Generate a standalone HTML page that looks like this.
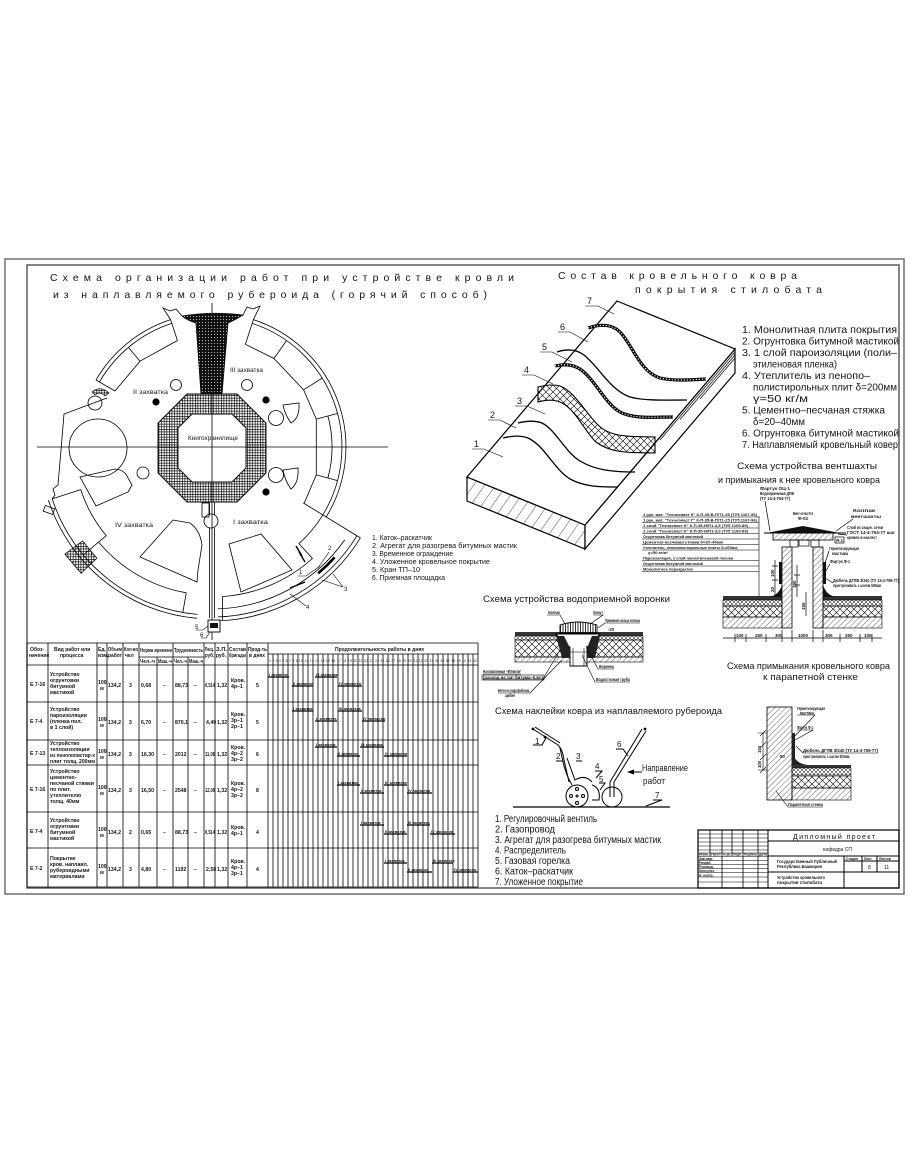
<!DOCTYPE html>
<html><head><meta charset="utf-8">
<style>
html,body{margin:0;padding:0;background:#fff;}
svg{display:block;}
text{font-family:"Liberation Sans","DejaVu Sans",sans-serif;fill:#151515;}
</style></head><body>
<svg width="910" height="1155" viewBox="0 0 910 1155" xmlns="http://www.w3.org/2000/svg">
<defs>
<pattern id="grid" width="2.6" height="2.6" patternUnits="userSpaceOnUse"><path d="M0 0.3H2.6M0.3 0V2.6" stroke="#000" stroke-width="0.7"/></pattern>
<pattern id="xh" width="7" height="7" patternUnits="userSpaceOnUse"><path d="M0 0L7 7M7 0L0 7" stroke="#000" stroke-width="0.6"/></pattern>
<pattern id="xs" width="4" height="4" patternUnits="userSpaceOnUse"><path d="M0 0L4 4M4 0L0 4" stroke="#000" stroke-width="0.5"/></pattern>
<pattern id="dg" width="4" height="4" patternUnits="userSpaceOnUse" patternTransform="rotate(45)"><path d="M0 0V4" stroke="#000" stroke-width="0.6"/></pattern>
<pattern id="dgw" width="9" height="9" patternUnits="userSpaceOnUse" patternTransform="rotate(35)"><path d="M0 0V9" stroke="#000" stroke-width="0.7"/></pattern>
<pattern id="dk" width="3" height="3" patternUnits="userSpaceOnUse"><rect width="3" height="3" fill="#111"/><rect x="1" y="1" width="1" height="1" fill="#bbb"/></pattern>
<pattern id="vs" width="2.5" height="4" patternUnits="userSpaceOnUse"><path d="M0.5 0V4" stroke="#000" stroke-width="0.8"/></pattern>
</defs>
<rect width="910" height="1155" fill="#fff"/>

<!-- frame -->
<rect x="5" y="259" width="899" height="635" fill="none" stroke="#777" stroke-width="1.6"/>
<rect x="27" y="265" width="872" height="623" fill="none" stroke="#444" stroke-width="1.3"/>

<!-- titles -->
<text x="50" y="281" font-size="10.5" textLength="464">Схема организации работ при устройстве кровли</text>
<text x="53" y="298" font-size="10.5" textLength="434">из наплавляемого рубероида (горячий способ)</text>
<text x="558" y="279" font-size="10.5" textLength="239">Состав кровельного ковра</text>
<text x="635" y="293" font-size="10.5" textLength="187">покрытия стилобата</text>

<!-- ================= PLAN ================= -->
<g fill="none" stroke="#000" stroke-width="0.8">
<line x1="37" y1="447" x2="388" y2="447"/>
<line x1="212" y1="303" x2="212" y2="640"/>
<path d="M96 380 A134 134 0 0 1 170.6 319.6 M99.4 382 A130 130 0 0 1 171.8 323.4 M115 391 L140 361.2 L177.4 340.5 M96 380 L115 391 M170.6 319.6 L177.4 340.5 M140 361.2 L128.4 347.4"/>
<path d="M170.6 319.6 L163 308 L170 311 L176 309 L182 316 M253.4 319.6 L260 306 L253 309 L247 307 L243 315"/>
<path d="M253.4 319.6 A134 134 0 0 1 326.2 517 M252.2 323.4 A130 130 0 0 1 322.8 514.9"/>
<path d="M253.4 319.6 L245.4 344.3 L273.9 358.5 L303.6 389.8 L316.3 419.1 L316.3 474.9 L304.1 503.4"/>
<path d="M273.9 358.5 L286.6 340.5 M303.6 389.8 L322.2 378.1 M316.3 419.1 L337.6 413.4 M316.3 474.9 L337.6 480.6 M327.9 415.9 A120 120 0 0 1 327.9 478.1"/>
<path d="M303.2 502.9 L360.4 537.9"/>
<path d="M360.4 537.9 A174 174 0 0 1 218.1 620.9 M356.9 535.8 A170 170 0 0 1 217.9 616.9"/>
<path d="M344.7 539.9 A162 162 0 0 1 217.7 608.9"/>
<path d="M322.8 514.9 A130 130 0 0 1 299 543.6 L312.4 558.5 A150 150 0 0 1 222.5 596.6 L222.5 620"/>
<path d="M197 618.3 A172 172 0 0 1 48.4 500.1 M197.4 614.4 A168 168 0 0 1 52.2 498.9"/>
<path d="M186.3 592.8 A148 148 0 0 1 98.6 542.1 L106.3 535.7 A138 138 0 0 1 80.7 489.6 M186.3 592.8 L182.8 612.4 M98.6 542.1 L83.3 555 M80.7 489.6 L52.2 498.9"/>
<path d="M107 398 L64 414 L61 450 L58 485 L53 489 L55 495 L52.2 498.9"/>
<rect x="44" y="507" width="10" height="6" transform="rotate(20 49 510)"/>
<circle cx="98" cy="448" r="29"/>
<path d="M80 477 L115 469 Q125 470 128 478 L132 485 L128 492 L96 506 Z"/>
<circle cx="143" cy="473" r="6"/>
<path d="M140 557 L173 520 L190 523 Q200 530 202 545 L198 570 L197 582 Z"/>
<path d="M229 544 L261 534 L292 570 L241 592 Z"/>
<circle cx="176" cy="385" r="5.5"/>
<circle cx="247" cy="385" r="5.5"/>
<circle cx="276" cy="418" r="7.5"/>
<path d="M283 405 L299 403 Q300 418 291 423 Q285 415 283 405Z"/>
<circle cx="276" cy="475" r="7.5"/>
<path d="M283 470 L298 468 Q299 483 291 489 Q285 481 283 470Z"/>
<circle cx="95" cy="403" r="7"/>
<path d="M209.5 502 V515 M214.5 502 V515 M209.5 528 V618 M214.5 528 V618"/>
<circle cx="211" cy="521" r="7"/>
<rect x="202" y="503" width="7" height="14"/>
</g>
<circle cx="156" cy="402" r="3.6" fill="#000"/>
<circle cx="266" cy="400" r="3.6" fill="#000"/>
<circle cx="266" cy="492" r="3.6" fill="#000"/>
<path d="M92 392 Q100 385 109 393 L105 396 Q100 391 95 395 Z" fill="url(#grid)" stroke="#000" stroke-width="0.6"/>
<polygon points="96.9,558.2 81.1,573.4 64.8,554 82.6,541" fill="url(#grid)" stroke="#000" stroke-width="0.7"/>
<path d="M187 394 L237 394 L266 423 L266 473 L237 502 L187 502 L158 473 L158 423 Z M192 414 L178 428 L178 468 L192 482 L232 482 L246 468 L246 428 L232 414 Z" fill="url(#grid)" fill-rule="evenodd" stroke="#000" stroke-width="0.9"/>
<path d="M182 316 Q212 311 243 315 Q233 321 228 323 L222 394 L201 394 L196 323 Q188 321 182 316Z" fill="url(#dk)" stroke="#000" stroke-width="0.8"/>
<path d="M334.6 557.4 A165 165 0 0 1 318.1 573.4" fill="none" stroke="#000" stroke-width="2.6"/>
<path d="M290 588 L305 582 M296 546 L302 556 M299 552 L305 562" stroke="#000" stroke-width="1.4"/>
<rect x="208" y="620" width="12" height="12" fill="#fff" stroke="#000" stroke-width="0.9"/>
<rect x="210" y="623" width="8" height="5" fill="#111"/>
<g font-size="6">
<text x="230" y="372" textLength="33" lengthAdjust="spacingAndGlyphs">III захватка</text>
<text x="133" y="394" textLength="35" lengthAdjust="spacingAndGlyphs">II захватка</text>
<text x="188" y="440" textLength="50" lengthAdjust="spacingAndGlyphs">Книгохранилище</text>
<text x="115" y="527" textLength="38" lengthAdjust="spacingAndGlyphs">IV захватка</text>
<text x="233" y="524" textLength="35" lengthAdjust="spacingAndGlyphs">I захватка</text>
<text x="299" y="574">1</text>
<text x="328" y="550">2</text>
<text x="344" y="591">3</text>
<text x="306" y="609">4</text>
<text x="195" y="629">5</text>
<text x="200" y="637">6</text>
</g>
<g stroke="#000" stroke-width="0.6" fill="none">
<path d="M298 576 H306 L320 566 M329 552 L318 568 M343 587 L322 580 M343 587 L333 574 M306 606 L290 594 M196 630 H203 L208 626 M201 638 H206 L210 632"/>
</g>
<g font-size="7">
<text x="372" y="540" textLength="60" lengthAdjust="spacingAndGlyphs">1. Каток–раскатчик</text>
<text x="372" y="548" textLength="145" lengthAdjust="spacingAndGlyphs">2. Агрегат для разогрева битумных мастик</text>
<text x="372" y="556" textLength="81" lengthAdjust="spacingAndGlyphs">3. Временное ограждение</text>
<text x="372" y="564" textLength="118" lengthAdjust="spacingAndGlyphs">4. Уложенное кровельное покрытие</text>
<text x="372" y="572" textLength="48" lengthAdjust="spacingAndGlyphs">5. Кран ТП–10</text>
<text x="372" y="580" textLength="73" lengthAdjust="spacingAndGlyphs">6. Приемная площадка</text>
</g>

<!-- ================= TABLE ================= -->
<g stroke="#000" stroke-width="0.8" fill="none">
<path d="M27 643 H478 M27 665 H478 M27 702 H478 M27 740 H478 M27 765 H478 M27 812 H478 M27 848 H478 M27 887 H478 M268 654 H478 M139 657 H204"/>
<path d="M27 643 V887 M48 643 V887 M97 643 V887 M107 643 V887 M123 643 V887 M139 643 V887 M157 657 V887 M173 643 V887 M188 657 V887 M204 643 V887 M215 643 V887 M228 643 V887 M247 643 V887 M268 643 V887 M478 643 V887"/>
<path d="M273 654V887M278 654V887M283 654V887M288 654V887M293 654V887M298 654V887M303 654V887M308 654V887M313 654V887M318 654V887M323 654V887M328 654V887M333 654V887M338 654V887M343 654V887M348 654V887M353 654V887M358 654V887M363 654V887M368 654V887M373 654V887M378 654V887M383 654V887M388 654V887M393 654V887M398 654V887M403 654V887M408 654V887M413 654V887M418 654V887M423 654V887M428 654V887M433 654V887M438 654V887M443 654V887M448 654V887M453 654V887M458 654V887M463 654V887M468 654V887M473 654V887"/>
</g>
<g stroke="#000" stroke-width="1.3">
<path d="M268 677H289M292 686H313M315 677H337M338 686H362"/>
<path d="M292 711H313M315 721H337M338 711H362M362 721H385"/>
<path d="M315 747H337M337 756H360M360 747H384M384 756H407"/>
<path d="M337 785H360M360 793H384M384 785H407M407 793H432"/>
<path d="M360 825H384M384 834H407M407 825H430M430 834H455"/>
<path d="M384 863H407M407 872H432M432 863H453M453 872H478"/>
</g>
<g font-size="4" font-weight="bold">
<text x="269" y="676">I захватка</text><text x="293" y="685">II захватка</text><text x="316" y="676">III захватка</text><text x="339" y="685">IV захватка</text>
<text x="293" y="710">I захватка</text><text x="316" y="720">II захватка</text><text x="339" y="710">III захватка</text><text x="363" y="720">IV захватка</text>
<text x="316" y="746">I захватка</text><text x="338" y="755">II захватка</text><text x="361" y="746">III захватка</text><text x="385" y="755">IV захватка</text>
<text x="338" y="784">I захватка</text><text x="361" y="792">II захватка</text><text x="385" y="784">III захватка</text><text x="408" y="792">IV захватка</text>
<text x="361" y="824">I захватка</text><text x="385" y="833">II захватка</text><text x="408" y="824">III захватка</text><text x="431" y="833">IV захватка</text>
<text x="385" y="862">I захватка</text><text x="408" y="871">II захватка</text><text x="433" y="862">III захватка</text><text x="454" y="871">IV захватка</text>
</g>
<g font-size="5" font-weight="bold">
<text x="30" y="651">Обоз-</text><text x="29" y="657">начение</text>
<text x="54" y="651">Вид работ или</text><text x="60" y="657">процесса</text>
<text x="98" y="651">Ед.</text><text x="98" y="657">изм.</text>
<text x="108" y="651" textLength="14" lengthAdjust="spacingAndGlyphs">Объем</text><text x="108" y="657" textLength="14" lengthAdjust="spacingAndGlyphs">работ</text>
<text x="124" y="651" textLength="14" lengthAdjust="spacingAndGlyphs">Кол-во</text><text x="125" y="657">чел</text>
<text x="140" y="652" textLength="32" lengthAdjust="spacingAndGlyphs">Норма времени</text><text x="174" y="652" textLength="29" lengthAdjust="spacingAndGlyphs">Трудоемкость</text>
<text x="140" y="663" textLength="15" lengthAdjust="spacingAndGlyphs">Чел.-ч</text><text x="158" y="663" textLength="14" lengthAdjust="spacingAndGlyphs">Маш.-ч</text><text x="174" y="663" textLength="13" lengthAdjust="spacingAndGlyphs">Чел.-ч</text><text x="189" y="663" textLength="14" lengthAdjust="spacingAndGlyphs">Маш.-ч</text>
<text x="205" y="651" textLength="9" lengthAdjust="spacingAndGlyphs">Расц.</text><text x="205" y="657" textLength="9" lengthAdjust="spacingAndGlyphs">руб.</text>
<text x="216" y="651" textLength="11" lengthAdjust="spacingAndGlyphs">З.П.</text><text x="216" y="657" textLength="10" lengthAdjust="spacingAndGlyphs">руб.</text>
<text x="229" y="651" textLength="17" lengthAdjust="spacingAndGlyphs">Состав</text><text x="229" y="657" textLength="17" lengthAdjust="spacingAndGlyphs">бригады</text>
<text x="248" y="651" textLength="19" lengthAdjust="spacingAndGlyphs">Прод-ть</text><text x="249" y="657" textLength="16" lengthAdjust="spacingAndGlyphs">в днях</text>
<text x="335" y="651">Продолжительность работы в днях</text>
</g>
<text x="269" y="662" font-size="3.3" textLength="208">1 2 3 4 5 6 7 8 9 10 11 12 13 14 15 16 17 18 19 20 21 22 23 24 25 26 27 28 29 30 31 32 33 34 35 36 37 38 39 40 41 42</text>
<g font-size="5.2" font-weight="bold">
<text x="30" y="686">Е 7-16</text>
<text x="50" y="676">Устройство</text><text x="50" y="682">огрунтовки</text><text x="50" y="688">битумной</text><text x="50" y="694">мастикой</text>
<text x="98" y="684">100</text><text x="100" y="690">м</text><text x="108" y="687">134,2</text><text x="129" y="687">3</text><text x="141" y="687">0,68</text><text x="163" y="687">–</text><text x="175" y="687">88,73</text><text x="194" y="687">–</text><text x="205" y="687" textLength="10" lengthAdjust="spacingAndGlyphs">0,514</text><text x="217" y="687">1,32</text><text x="231" y="682">Кров.</text><text x="231" y="688">4р–1</text><text x="256" y="687">5</text>
<text x="30" y="723">Е 7-4</text>
<text x="50" y="711">Устройство</text><text x="50" y="717">пароизоляции</text><text x="50" y="723">(пленка пол.</text><text x="50" y="729">в 1 слой)</text>
<text x="98" y="721">100</text><text x="100" y="727">м</text><text x="108" y="724">134,2</text><text x="129" y="724">3</text><text x="141" y="724">6,70</text><text x="163" y="724">–</text><text x="175" y="724">870,1</text><text x="194" y="724">–</text><text x="206" y="724">4,49</text><text x="217" y="724">1,32</text><text x="231" y="716">Кров.</text><text x="231" y="722">3р–1</text><text x="231" y="728">2р–1</text><text x="256" y="724">5</text>
<text x="30" y="755">Е 7-13</text>
<text x="50" y="745">Устройство</text><text x="50" y="751">теплоизоляции</text><text x="50" y="757" textLength="45" lengthAdjust="spacingAndGlyphs">из пенополистир-х</text><text x="50" y="763" textLength="45" lengthAdjust="spacingAndGlyphs">плит толщ. 200мм</text>
<text x="98" y="753">100</text><text x="100" y="759">м</text><text x="108" y="756">134,2</text><text x="129" y="756">3</text><text x="141" y="756">16,30</text><text x="163" y="756">–</text><text x="175" y="756">2012</text><text x="194" y="756">–</text><text x="205" y="756" textLength="10" lengthAdjust="spacingAndGlyphs">11,06</text><text x="217" y="756">1,32</text><text x="231" y="749">Кров.</text><text x="231" y="755">4р–2</text><text x="231" y="761">3р–2</text><text x="256" y="756">6</text>
<text x="30" y="791">Е 7-16</text>
<text x="50" y="773">Устройство</text><text x="50" y="779">цементно-</text><text x="50" y="785" textLength="44" lengthAdjust="spacingAndGlyphs">песчаной стяжки</text><text x="50" y="791">по плит.</text><text x="50" y="797">утеплителю</text><text x="50" y="803">толщ. 40мм</text>
<text x="98" y="789">100</text><text x="100" y="795">м</text><text x="108" y="792">134,2</text><text x="129" y="792">3</text><text x="141" y="792">16,50</text><text x="163" y="792">–</text><text x="175" y="792">2548</text><text x="194" y="792">–</text><text x="205" y="792" textLength="10" lengthAdjust="spacingAndGlyphs">12,06</text><text x="217" y="792">1,32</text><text x="231" y="785">Кров.</text><text x="231" y="791">4р–2</text><text x="231" y="797">3р–2</text><text x="256" y="792">8</text>
<text x="30" y="833">Е 7-4</text>
<text x="50" y="822">Устройство</text><text x="50" y="828">огрунтовки</text><text x="50" y="834">битумной</text><text x="50" y="840">мастикой</text>
<text x="98" y="831">100</text><text x="100" y="837">м</text><text x="108" y="834">134,2</text><text x="129" y="834">2</text><text x="141" y="834">0,65</text><text x="163" y="834">–</text><text x="175" y="834">88,73</text><text x="194" y="834">–</text><text x="205" y="834" textLength="10" lengthAdjust="spacingAndGlyphs">0,514</text><text x="217" y="834">1,32</text><text x="231" y="829">Кров.</text><text x="231" y="835">4р–1</text><text x="256" y="834">4</text>
<text x="30" y="870">Е 7-2</text>
<text x="50" y="860">Покрытие</text><text x="50" y="866">кров. наплавл.</text><text x="50" y="872">рубероидными</text><text x="50" y="878">материалами</text>
<text x="98" y="868">100</text><text x="100" y="874">м</text><text x="108" y="871">134,2</text><text x="129" y="871">3</text><text x="141" y="871">4,80</text><text x="163" y="871">–</text><text x="175" y="871">1192</text><text x="194" y="871">–</text><text x="206" y="871">2,58</text><text x="217" y="871">1,32</text><text x="231" y="863">Кров.</text><text x="231" y="869">4р–1</text><text x="231" y="875">3р–1</text><text x="256" y="871">4</text>
</g>

<!-- ================= ISOMETRIC BLOCK ================= -->
<polygon points="467,477 585,525 585,549 467,501" fill="url(#dgw)" stroke="#000" stroke-width="1.2"/>
<polygon points="585,525 735,349 735,373 585,549" fill="#fff" stroke="#000" stroke-width="1.2"/>
<polygon points="617,301 735,349 585,525 467,477" fill="#fff" stroke="#000" stroke-width="1.2"/>
<g fill="none" stroke="#000" stroke-width="0.7">
<path d="M735 352 L660 440 M735 355 L680 419.5 M735 358 L700 399"/>
</g>
<g fill="none" stroke="#000" stroke-width="1.3">
<path d="M557 352 C566 349 576 349 584 355 C600 368 610 390 630 397 C645 401 665 400 687 400"/>
<path d="M518 423 C526 421 534 420 542 423 C556 430 565 452 580 461 C595 470 612 472 635 472"/>
<path d="M503 438 C512 436 520 435 528 438 C545 446 553 468 570 479 C585 487 600 487 618 487"/>
</g>
<g fill="none">
<path d="M588 328 C600 324 612 324 620 332 C632 344 640 372 660 378 C672 381 690 380 706 379" stroke="#000" stroke-width="3.2"/>
<path d="M588 328 C600 324 612 324 620 332 C632 344 640 372 660 378 C672 381 690 380 706 379" stroke="#fff" stroke-width="1.2" stroke-dasharray="1.2 1.8"/>
<path d="M555 366 C563 364 572 364 580 369 C596 380 605 405 622 413 C636 419 655 417 673 417" stroke="#000" stroke-width="3.2"/>
<path d="M555 366 C563 364 572 364 580 369 C596 380 605 405 622 413 C636 419 655 417 673 417" stroke="#fff" stroke-width="1.2" stroke-dasharray="1.2 1.8"/>
</g>
<path d="M538 387 C546 385 553 384 560 386 C574 391 585 412 598 425 C608 435 620 437 655 437 L655 453 C620 453 608 451 596 442 C585 432 576 410 562 403 C554 399 545 400 538 402 Z" fill="url(#xh)" stroke="#000" stroke-width="1.1"/>
<g font-size="9">
<text x="587" y="304">7</text><text x="560" y="330">6</text><text x="542" y="350">5</text><text x="524" y="373">4</text><text x="517" y="404">3</text><text x="490" y="418">2</text><text x="474" y="447">1</text>
</g>
<g stroke="#000" stroke-width="0.6" fill="none">
<path d="M585 306 H598 L614 314 M558 332 H570 L588 342 M540 352 H552 L572 362 M522 375 H534 L553 384 M515 406 H527 L545 414 M488 420 H500 L516 428 M472 449 H484 L503 457"/>
</g>
<g font-size="10">
<text x="742" y="333" textLength="155" lengthAdjust="spacingAndGlyphs">1. Монолитная плита покрытия</text>
<text x="742" y="344.5" textLength="157" lengthAdjust="spacingAndGlyphs">2. Огрунтовка битумной мастикой</text>
<text x="742" y="356" textLength="155" lengthAdjust="spacingAndGlyphs">3. 1 слой пароизоляции (поли–</text>
<text x="753" y="367.5" textLength="84" lengthAdjust="spacingAndGlyphs">этиленовая пленка)</text>
<text x="742" y="379" textLength="128" lengthAdjust="spacingAndGlyphs">4. Утеплитель из пенопо–</text>
<text x="753" y="390.5" textLength="144" lengthAdjust="spacingAndGlyphs">полистирольных плит δ=200мм</text>
<text x="753" y="402" textLength="55" lengthAdjust="spacingAndGlyphs">γ=50 кг/м</text>
<text x="742" y="413.5" textLength="143" lengthAdjust="spacingAndGlyphs">5. Цементно–песчаная стяжка</text>
<text x="753" y="425" textLength="52" lengthAdjust="spacingAndGlyphs">δ=20–40мм</text>
<text x="742" y="436.5" textLength="157" lengthAdjust="spacingAndGlyphs">6. Огрунтовка битумной мастикой</text>
<text x="742" y="448" textLength="156" lengthAdjust="spacingAndGlyphs">7. Наплавляемый кровельный ковер</text>
</g>
<text x="737" y="469" font-size="9.5" textLength="140" lengthAdjust="spacingAndGlyphs">Схема устройства вентшахты</text>
<text x="718" y="483" font-size="9.5" textLength="162" lengthAdjust="spacingAndGlyphs">и примыкания к нее кровельного ковра</text>

<!-- ================= VENT SHAFT ================= -->
<g font-size="4" font-weight="bold">
<text x="643" y="516" textLength="114" lengthAdjust="spacingAndGlyphs">1 рук. мат. "Техноэласт К" К-П-35-В-П/Т1-25 (ТУ5 1167-96)</text>
<text x="643" y="521.5" textLength="114" lengthAdjust="spacingAndGlyphs">1 рук. мат. "Техноэласт Г" К-П-35-В-П/Т1-25 (ТУ5 1167-96)</text>
<text x="643" y="527" textLength="105" lengthAdjust="spacingAndGlyphs">1 слой "Техноэласт К" К-П-35-Н/П1-3,5 (ТУ5 1100-89)</text>
<text x="643" y="532.5" textLength="105" lengthAdjust="spacingAndGlyphs">1 слой "Техноэласт К" К-П-35-Н/П1-3,0 (ТУ5 1100-89)</text>
<text x="643" y="538" textLength="60" lengthAdjust="spacingAndGlyphs">Огрунтовка битумной мастикой</text>
<text x="643" y="543.5" textLength="80" lengthAdjust="spacingAndGlyphs">Цементно-песчаная стяжка δ=20–40мм</text>
<text x="643" y="549" textLength="95" lengthAdjust="spacingAndGlyphs">Утеплитель, пенополистирольные плиты δ=200мм,</text>
<text x="648" y="554" textLength="20" lengthAdjust="spacingAndGlyphs">γ=50 кг/м³</text>
<text x="643" y="559.5" textLength="90" lengthAdjust="spacingAndGlyphs">Пароизоляция, 1 слой полиэтиленовой пленки</text>
<text x="643" y="565" textLength="60" lengthAdjust="spacingAndGlyphs">Огрунтовка битумной мастикой</text>
<text x="643" y="570.5" textLength="50" lengthAdjust="spacingAndGlyphs">Монолитное перекрытие</text>
</g>
<g stroke="#000" stroke-width="0.6" fill="none">
<path d="M642 517 H759 M642 522.5 H759 M642 528 H759 M642 533.5 H759 M642 539 H759 M642 544.5 H759 M642 550 H759 M642 560.5 H759 M642 566 H759 M642 571.5 H759 M759 516 V597"/>
</g>
<rect x="723" y="596" width="59" height="4" fill="#333"/>
<rect x="823" y="596" width="59" height="4" fill="#333"/>
<rect x="723" y="600" width="59" height="6" fill="url(#xs)" stroke="#000" stroke-width="0.6"/>
<rect x="823" y="600" width="59" height="6" fill="url(#xs)" stroke="#000" stroke-width="0.6"/>
<rect x="723" y="606" width="59" height="11" fill="url(#xh)" stroke="#000" stroke-width="0.6"/>
<rect x="823" y="606" width="59" height="11" fill="url(#xh)" stroke="#000" stroke-width="0.6"/>
<rect x="723" y="617" width="59" height="11" fill="url(#dg)" stroke="#000" stroke-width="0.6"/>
<rect x="823" y="617" width="59" height="11" fill="url(#dg)" stroke="#000" stroke-width="0.6"/>
<rect x="782" y="547" width="10" height="81" fill="url(#dg)" stroke="#000" stroke-width="0.8"/>
<rect x="813" y="547" width="10" height="81" fill="url(#dg)" stroke="#000" stroke-width="0.8"/>
<rect x="773" y="533" width="60" height="7" fill="url(#dg)" stroke="#000" stroke-width="0.8"/>
<polygon points="766,533 803,526 840,533" fill="#111"/>
<line x1="764" y1="533" x2="846" y2="533" stroke="#000" stroke-width="1"/>
<g fill="none" stroke="#000" stroke-width="0.7">
<rect x="790" y="540" width="8" height="7"/><rect x="811" y="540" width="8" height="7"/><rect x="799" y="540" width="10" height="6"/>
<path d="M723 638 H882 M735 634 V642 M746 634 V642 M766 634 V642 M782 630 V642 M792 630 V642 M813 630 V642 M823 630 V642 M840 634 V642 M860 634 V642 M872 634 V642"/>
<path d="M775 560 V597 M772 566 H778 M772 580 H778 M797 565 V597 M794 575 H800 M794 585 H800 M806 592 V616"/>
<path d="M765 501 L770 531 M853 519 L836 531 M847 535 L838 534 M829 551 L824 566 M830 564 L824 574 M833 583 L825 578"/>
<rect x="835" y="537" width="9" height="6"/>
</g>
<path d="M770 597 Q780 594 782 584 L782 597 Z" fill="#111"/>
<path d="M835 597 Q825 594 823 584 L823 597 Z" fill="#111"/>
<rect x="779" y="562" width="3" height="22" fill="#111"/>
<rect x="823" y="562" width="3" height="22" fill="#111"/>
<g font-size="4.5" font-weight="bold">
<text x="736" y="637">100</text><text x="755" y="637">250</text><text x="775" y="637">300</text><text x="798" y="637">1000</text><text x="825" y="637">300</text><text x="845" y="637">250</text><text x="864" y="637">100</text>
<text x="760" y="490" textLength="30" lengthAdjust="spacingAndGlyphs">Фартук ОЦ-1</text>
<text x="760" y="495" textLength="34" lengthAdjust="spacingAndGlyphs">Водоприемная ДПВ</text>
<text x="760" y="500" textLength="30" lengthAdjust="spacingAndGlyphs">(ТУ 14-4-754-77)</text>
<text x="793" y="515" textLength="20" lengthAdjust="spacingAndGlyphs">Вент-сетка Я-2</text>
<text x="798" y="520" textLength="10" lengthAdjust="spacingAndGlyphs">Ф-02</text>
<text x="853" y="512" textLength="22" lengthAdjust="spacingAndGlyphs">Колпак</text>
<text x="851" y="518" textLength="30" lengthAdjust="spacingAndGlyphs">вентшахты</text>
<text x="847" y="529" textLength="36" lengthAdjust="spacingAndGlyphs">Слой из сварн. сетки</text>
<text x="847" y="534" textLength="48" lengthAdjust="spacingAndGlyphs">ГОСТ 14-4-754-77 шаг</text>
<text x="847" y="539" textLength="30" lengthAdjust="spacingAndGlyphs">кровли в нахлест</text>
<text x="836" y="542" textLength="7" lengthAdjust="spacingAndGlyphs">Я-1</text>
<text x="829" y="550" textLength="30" lengthAdjust="spacingAndGlyphs">Герметизирующая</text>
<text x="832" y="555" textLength="16" lengthAdjust="spacingAndGlyphs">мастика</text>
<text x="830" y="563" textLength="20" lengthAdjust="spacingAndGlyphs">Фартук Ф-1</text>
<text x="833" y="582" textLength="66" lengthAdjust="spacingAndGlyphs">Дюбель ДГПВ 3/240 (ТУ 14-4-759-77)</text>
<text x="833" y="587" textLength="48" lengthAdjust="spacingAndGlyphs">пристреливать с шагом 500мм</text>
</g>
<g font-size="4.5" font-weight="bold">
<text transform="translate(774 592) rotate(-90)">20</text>
<text transform="translate(774 577) rotate(-90)">100</text>
<text transform="translate(796 588) rotate(-90)">100</text>
<text transform="translate(805 610) rotate(-90)">150</text>
</g>

<!-- ================= FUNNEL ================= -->
<text x="483" y="602" font-size="9.5" textLength="187" lengthAdjust="spacingAndGlyphs">Схема устройства водоприемной воронки</text>
<rect x="515" y="632" width="128" height="4" fill="#333"/>
<rect x="515" y="636" width="128" height="4" fill="url(#xs)" stroke="#000" stroke-width="0.5"/>
<rect x="515" y="640" width="128" height="17" fill="url(#xh)" stroke="#000" stroke-width="0.6"/>
<rect x="515" y="657" width="128" height="5" fill="url(#dg)" stroke="#000" stroke-width="0.6"/>
<polygon points="556,634 600,634 590,645 587,647 587,666 570,666 570,647 566,645" fill="#fff" stroke="#000" stroke-width="0.9"/>
<polygon points="556,636 564,636 570,648 570,658 562,658" fill="#222"/>
<polygon points="600,636 592,636 587,648 587,658 595,658" fill="#222"/>
<path d="M573 648 V666 M584 648 V666 M570 652 H587" stroke="#000" stroke-width="0.6" fill="none"/>
<path d="M560 633 L560 625 Q578 619 597 625 L597 633 Z" fill="url(#vs)" stroke="#000" stroke-width="0.9"/>
<g stroke="#000" stroke-width="0.6" fill="none">
<path d="M547 615 H560 L565 624 M593 615 H603 L590 624 M605 623 H640 M605 623 L598 628 M598 669 H614 M598 669 L586 646 M595 682 H630 M595 682 L582 655 M483 674 H521 M483 679 H543 M543 679 L560 650 M498 693 H530 M530 693 L562 660"/>
<rect x="482" y="675" width="62" height="5"/>
</g>
<g font-size="4.3" font-weight="bold">
<text x="548" y="614" textLength="12" lengthAdjust="spacingAndGlyphs">Колпак</text>
<text x="593" y="614" textLength="10" lengthAdjust="spacingAndGlyphs">Хомут</text>
<text x="605" y="622" textLength="35" lengthAdjust="spacingAndGlyphs">Прижимное кольцо колпака</text>
<text x="608" y="631">-20</text>
<text x="599" y="668" textLength="15" lengthAdjust="spacingAndGlyphs">Воронка</text>
<text x="596" y="681" textLength="34" lengthAdjust="spacingAndGlyphs">Водосточная труба</text>
<text x="483" y="673" textLength="38" lengthAdjust="spacingAndGlyphs">Наплавляемая –800мл/м²</text>
<text x="483" y="679" textLength="60" lengthAdjust="spacingAndGlyphs">(расход на 1м² битума–0,6л)</text>
<text x="498" y="692" textLength="32" lengthAdjust="spacingAndGlyphs">Бетон на гидрофобизир.</text>
<text x="505" y="697" textLength="10" lengthAdjust="spacingAndGlyphs">щебне</text>
</g>

<!-- ================= ROLLING TOOL ================= -->
<text x="495" y="714" font-size="9.5" textLength="227" lengthAdjust="spacingAndGlyphs">Схема наклейки ковра из наплавляемого рубероида</text>
<line x1="513" y1="807" x2="670" y2="807" stroke="#000" stroke-width="1.3"/>
<g fill="none" stroke="#000" stroke-width="1">
<circle cx="577" cy="796" r="11"/>
<circle cx="577" cy="789" r="1.5"/><circle cx="571" cy="796" r="1.5"/><circle cx="583" cy="796" r="1.5"/><circle cx="577" cy="803" r="1.5"/><circle cx="577" cy="796" r="1"/>
<path d="M533 729 L558 745 Q563 750 564 760 L569 782 M535 727 L560 743"/>
<path d="M560 748 L563 762 Q566 775 572 785"/>
<path d="M567 758 L575 780 Q585 774 592 782"/>
<path d="M592 785 Q601 788 599 800 L592 800"/>
<circle cx="612" cy="797" r="10"/>
<path d="M610 797 V782 L642 729 M614 797 V782 L646 731"/>
<path d="M628 772 H642"/>
<path d="M533 745 H542 L546 738 M556 761 H563 M576 761 H582 M595 771 H602 L596 778 M599 783 H605 L600 790 M616 749 H623 L628 756 M653 800 H662 L646 806"/>
</g>
<circle cx="533" cy="729" r="1.4" fill="#000"/>
<circle cx="545" cy="737" r="1.4" fill="#000"/>
<circle cx="645" cy="729" r="1.4" fill="#000"/>
<polygon points="627,772 634,769.5 634,774.5" fill="#000"/>
<g font-size="8">
<text x="535" y="744">1</text><text x="556" y="759">2</text><text x="576" y="759">3</text><text x="595" y="769">4</text><text x="599" y="782">5</text><text x="617" y="747">6</text><text x="655" y="798">7</text>
</g>
<text x="642" y="771" font-size="9" textLength="46" lengthAdjust="spacingAndGlyphs">Направление</text>
<text x="643" y="784" font-size="9" textLength="22" lengthAdjust="spacingAndGlyphs">работ</text>
<g font-size="10">
<text x="495" y="822" textLength="102" lengthAdjust="spacingAndGlyphs">1. Регулировочный вентиль</text>
<text x="495" y="832.5" textLength="60" lengthAdjust="spacingAndGlyphs">2. Газопровод</text>
<text x="495" y="843" textLength="166" lengthAdjust="spacingAndGlyphs">3. Агрегат для разогрева битумных мастик</text>
<text x="495" y="853.5" textLength="71" lengthAdjust="spacingAndGlyphs">4. Распределитель</text>
<text x="495" y="864" textLength="75" lengthAdjust="spacingAndGlyphs">5. Газовая горелка</text>
<text x="495" y="874.5" textLength="78" lengthAdjust="spacingAndGlyphs">6. Каток–раскатчик</text>
<text x="495" y="885" textLength="88" lengthAdjust="spacingAndGlyphs">7. Уложенное покрытие</text>
</g>

<!-- ================= PARAPET ================= -->
<text x="727" y="669" font-size="9.5" textLength="163" lengthAdjust="spacingAndGlyphs">Схема примыкания кровельного ковра</text>
<text x="763" y="680" font-size="9.5" textLength="95" lengthAdjust="spacingAndGlyphs">к парапетной стенке</text>
<rect x="767" y="707" width="25" height="93" fill="url(#dg)" stroke="#000" stroke-width="0.8"/>
<rect x="792" y="765" width="59" height="3" fill="#333"/>
<rect x="792" y="768" width="59" height="7" fill="url(#xs)" stroke="#000" stroke-width="0.5"/>
<rect x="792" y="776" width="59" height="12" fill="url(#xh)" stroke="#000" stroke-width="0.6"/>
<rect x="792" y="788" width="59" height="12" fill="url(#dg)" stroke="#000" stroke-width="0.6"/>
<rect x="792" y="733" width="3" height="32" fill="#222"/>
<path d="M792 752 Q795 764 808 765 L792 765 Z" fill="#222"/>
<g stroke="#000" stroke-width="0.6" fill="none">
<path d="M763 733 V770 M760 736 L766 730 M760 748 L766 742 M760 760 L766 754 M760 773 L766 767 M758 733 H767 M758 770 H767"/>
<path d="M797 715 H815 L794 737 M797 730 H813 L795 740 M803 753 H878 M803 753 L796 746 M788 807 H823 M788 807 L776 791"/>
</g>
<g font-size="4.3" font-weight="bold">
<text x="797" y="710" textLength="28" lengthAdjust="spacingAndGlyphs">Герметизирующая</text>
<text x="800" y="714.5" textLength="14" lengthAdjust="spacingAndGlyphs">мастика</text>
<text x="797" y="729" textLength="16" lengthAdjust="spacingAndGlyphs">Фартук Ф-1</text>
<text x="803" y="752" textLength="75" lengthAdjust="spacingAndGlyphs">Дюбель ДГПВ 3/240 (ТУ 14-4-759-77)</text>
<text x="803" y="758" textLength="47" lengthAdjust="spacingAndGlyphs">пристреливать с шагом 500мм.</text>
<text x="788" y="806" textLength="35" lengthAdjust="spacingAndGlyphs">Парапетная стенка</text>
<text x="780" y="758">50</text>
<text transform="translate(761 753) rotate(-90)">150</text>
<text transform="translate(761 768) rotate(-90)">100</text>
</g>

<!-- ================= TITLE BLOCK ================= -->
<g stroke="#000" fill="none">
<rect x="698" y="830" width="201" height="58" stroke-width="1.2"/>
<path d="M768 830 V888 M768 841 H899 M768 856 H899 M768 872 H899 M844 856 V888 M862 856 V872 M877 856 V872 M844 861 H899" stroke-width="1"/>
<path d="M698 834 H768 M698 838 H768 M698 842 H768 M698 846 H768 M698 850 H768 M698 853 H768 M698 856.5 H768 M698 860.5 H768 M698 864.5 H768 M698 868.5 H768 M698 872.5 H768 M698 877 H768 M698 882 H768" stroke-width="0.6"/>
<path d="M710 830 V856 M732 830 V856 M722 830 V888 M743 830 V888 M758 830 V888" stroke-width="0.8"/>
</g>
<g font-size="3.3" font-weight="bold">
<text x="699" y="855.5" textLength="10" lengthAdjust="spacingAndGlyphs">Изм.</text><text x="711" y="855.5" textLength="10" lengthAdjust="spacingAndGlyphs">Лист</text><text x="723" y="855.5" textLength="8" lengthAdjust="spacingAndGlyphs">№ док.</text><text x="733" y="855.5" textLength="9" lengthAdjust="spacingAndGlyphs">Подп.</text><text x="744" y="855.5" textLength="13" lengthAdjust="spacingAndGlyphs">Подпись</text><text x="759" y="855.5" textLength="8" lengthAdjust="spacingAndGlyphs">Дата</text>
<text x="699" y="860">Зав.каф.</text><text x="699" y="864">Разраб.</text><text x="699" y="868">Руковод.</text><text x="699" y="872">Консульт.</text><text x="699" y="876.5">Н. контр.</text>
<text x="846" y="860">Стадия</text><text x="864" y="860">Лист</text><text x="879" y="860">Листов</text>
</g>
<text x="793" y="839" font-size="7" textLength="82">Дипломный проект</text>
<text x="823" y="851" font-size="5">кафедра СП</text>
<g font-size="4.2" font-weight="bold">
<text x="777" y="863" textLength="60" lengthAdjust="spacingAndGlyphs">Государственный Публичный</text>
<text x="777" y="868" textLength="45" lengthAdjust="spacingAndGlyphs">Республика Башкирия</text>
<text x="777" y="879" textLength="48" lengthAdjust="spacingAndGlyphs">Устройство кровельного</text>
<text x="777" y="884" textLength="45" lengthAdjust="spacingAndGlyphs">покрытия стилобата</text>
</g>
<text x="868" y="869" font-size="5">8</text>
<text x="884" y="869" font-size="5">11</text>
</svg>
</body></html>
